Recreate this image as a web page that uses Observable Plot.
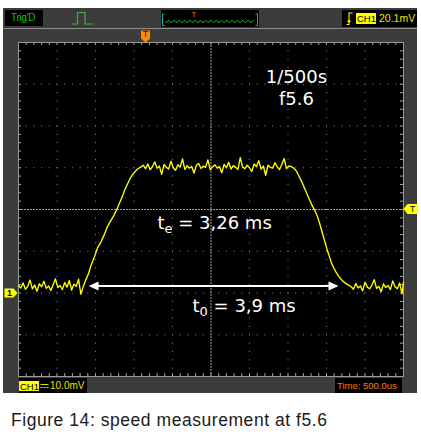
<!DOCTYPE html>
<html><head><meta charset="utf-8">
<script src="https://cdn.jsdelivr.net/npm/d3@7"></script>
<script src="https://cdn.jsdelivr.net/npm/@observablehq/plot@0.6"></script>
<style>
body{margin:0;background:#fff;width:421px;height:437px;overflow:hidden;position:relative;font-family:"Liberation Sans",Arial,sans-serif}
.abs{position:absolute}
#panel{left:3px;top:8px;width:414px;height:385px;background:#3c3c3c}
#sep{left:3px;top:28px;width:414px;height:1px;background:#8c8c8c}
.box{position:absolute;background:#000}
.lbl{position:absolute;white-space:nowrap;line-height:1}
#caption{position:absolute;left:11px;top:410px;font-size:17.5px;letter-spacing:0.55px;line-height:20px;color:#1a1a1a;white-space:nowrap}
</style></head><body>
<div id="panel" class="abs"></div><div id="sep" class="abs"></div>
<div id="chrome"></div>
<div id="caption">Figure 14: speed measurement at f5.6</div>
<script>
// ---- data ----
// time in ms (500 us/div, trigger at centre), voltage in mV (10 mV/div)
const leftT  = [-2.50,-2.47,-2.44,-2.41,-2.38,-2.35,-2.32,-2.29,-2.26,-2.23,-2.20,-2.17,-2.14,-2.11,-2.08,-2.05,-2.02,-1.99,-1.96,-1.93,-1.90,-1.87,-1.84,-1.81,-1.78,-1.75,-1.72,-1.69];
const leftMv = [1.8,1.2,2.4,0.9,1.6,3.1,1.0,1.9,0.4,2.2,1.5,2.8,1.1,1.7,0.6,2.0,3.4,1.3,1.8,0.8,2.5,1.4,3.0,0.7,2.1,1.6,3.3,-0.3];
const riseT  = [-1.656,-1.625,-1.591,-1.560,-1.526,-1.500,-1.474,-1.430,-1.383,-1.345,-1.305,-1.260,-1.214,-1.180,-1.149,-1.115,-1.084,-1.045,-1.006,-0.955,-0.910];
const riseMv = [1.7,3.2,4.6,6.5,8.1,9.4,10.8,12.2,14.1,15.9,17.2,18.6,20.4,21.9,23.2,24.9,26.1,27.6,28.7,29.7,30.2];
const topT   = [-0.88,-0.85,-0.82,-0.79,-0.76,-0.73,-0.70,-0.67,-0.64,-0.61,-0.58,-0.55,-0.52,-0.49,-0.46,-0.43,-0.40,-0.37,-0.34,-0.31,-0.28,-0.25,-0.22,-0.19,-0.16,-0.13,-0.10,-0.07,-0.04,-0.01,0.02,0.05,0.08,0.11,0.14,0.17,0.20,0.23,0.26,0.29,0.32,0.35,0.38,0.41,0.44,0.47,0.50,0.53,0.56,0.59,0.62,0.65,0.68,0.71,0.74,0.77,0.80,0.83,0.86,0.89,0.92,0.95,0.98,1.01,1.04];
const topMv  = [30.6,29.8,30.9,29.5,30.3,31.4,29.9,30.4,28.4,30.8,30.1,29.7,31.6,30.0,29.4,30.7,30.2,32.1,29.6,30.5,29.9,30.3,28.7,30.6,31.0,29.8,30.4,30.1,31.9,29.5,30.2,30.7,29.9,30.3,28.8,30.8,30.0,31.3,29.7,30.5,30.1,29.6,32.4,30.2,29.8,30.6,30.0,29.1,30.9,30.3,31.7,29.7,30.4,28.2,30.6,30.1,29.9,31.2,30.2,29.6,30.8,32.2,29.8,30.4,30.3];
const fallT  = [1.075,1.110,1.140,1.175,1.205,1.240,1.270,1.305,1.330,1.357,1.385,1.409,1.435,1.461,1.487,1.513,1.540,1.565,1.597,1.630,1.670,1.708,1.750,1.786];
const fallMv = [29.9,29.2,28.1,26.8,25.5,24.0,22.7,21.3,20.4,19.4,18.2,16.8,15.1,13.4,11.7,10.1,8.6,7.2,5.9,4.8,3.7,2.9,2.3,1.9];
const rightT  = [1.82,1.85,1.88,1.91,1.94,1.97,2.00,2.03,2.06,2.09,2.12,2.15,2.18,2.21,2.24,2.27,2.30,2.33,2.36,2.39,2.42,2.45,2.48,2.50];
const rightMv = [1.5,0.9,2.3,1.2,1.7,0.5,2.6,1.4,1.0,1.9,3.2,1.1,1.6,0.3,2.2,1.3,1.8,0.8,2.9,1.5,1.0,2.4,-0.2,2.6];

const gridTimes = [-2,-1.5,-1,-0.5,0.5,1,1.5,2];
const gridMv = [-10,0,10,30,40,50];
const centreTime = [0], centreMv = [20];

const settingLabels = [
  {t:1.11, mv:50.3, text:"1/500s"},
  {t:1.11, mv:45.0, text:"f5.6"}
];
const measures = [
  {t:-0.695, mv:15.3, sym:"t", sub:"e", rest:" = 3,26 ms"},
  {t:-0.240, mv:-4.5, sym:"t", sub:"0", rest:" = 3,9 ms"}
];
const span = {t1:-1.590, t2:1.656, mv:1.7};
const groundLevel = [{t:-2.5, mv:0, label:"1"}];
const triggerLevel = [{t:2.5, mv:20.1, label:"T"}];
const triggerTime = [{t:-0.85, mv:60, label:"T"}];

// ---- build ----
const seg = (ts, vs) => ts.map((t, i) => ({t, mv: vs[i]}));
const trace = [...seg(leftT,leftMv), ...seg(riseT,riseMv), ...seg(topT,topMv), ...seg(fallT,fallMv), ...seg(rightT,rightMv)];
const minorTimes = d3.range(-2.4, 2.45, 0.1);
const minorMv = d3.range(-18, 59, 2);

const symRight = {draw(c){c.moveTo(-6,-4.5);c.lineTo(3,-4.5);c.lineTo(7,0);c.lineTo(3,4.5);c.lineTo(-6,4.5);c.closePath();}};
const symLeft  = {draw(c){c.moveTo(-7,0);c.lineTo(-3,-5);c.lineTo(7,-5);c.lineTo(7,5);c.lineTo(-3,5);c.closePath();}};
const symDown  = {draw(c){c.moveTo(-4.5,-6);c.lineTo(4.5,-6);c.lineTo(4.5,2);c.lineTo(0,6);c.lineTo(-4.5,2);c.closePath();}};
const headL = {draw(c){c.moveTo(0,0);c.lineTo(10,-4.5);c.lineTo(10,4.5);c.closePath();}};
const headR = {draw(c){c.moveTo(0,0);c.lineTo(-10,-4.5);c.lineTo(-10,4.5);c.closePath();}};

const dotGrey = "#8a8a8a";
const plot = Plot.plot({
  width: 421, height: 400,
  marginLeft: 18, marginRight: 18, marginTop: 42, marginBottom: 24,
  x: {domain: [-2.5, 2.5], axis: null},
  y: {domain: [-20, 60], axis: null},
  style: {position:"absolute", left:"0px", top:"0px", background:"transparent", overflow:"visible"},
  marks: [
    Plot.frame({fill:"#000", stroke:null}),
    Plot.ruleX(gridTimes, {stroke:dotGrey, strokeDasharray:"1,7.35"}),
    Plot.ruleY(gridMv, {stroke:dotGrey, strokeDasharray:"1,6.7"}),
    Plot.ruleX(centreTime, {stroke:"#a0a0a0", strokeDasharray:"2,1"}),
    Plot.ruleY(centreMv, {stroke:"#a0a0a0", strokeDasharray:"2,1"}),
    Plot.ruleX(minorTimes, {y1:60, y2:59.3, stroke:"#a8a8a8"}),
    Plot.ruleX(minorTimes, {y1:-20, y2:-19.3, stroke:"#a8a8a8"}),
    Plot.ruleY(minorMv, {x1:-2.5, x2:-2.46, stroke:"#a8a8a8"}),
    Plot.ruleY(minorMv, {x1:2.5, x2:2.46, stroke:"#a8a8a8"}),
    Plot.frame({stroke:"#9a9a9a"}),
    Plot.line(trace, {x:"t", y:"mv", stroke:"#ffff00", strokeWidth:1.35}),
    Plot.link([span], {x1:d=>d.t1+0.05, x2:d=>d.t2-0.05, y1:"mv", y2:"mv", stroke:"#fff", strokeWidth:2}),
    Plot.dot([span], {x:"t1", y:"mv", symbol:headL, fill:"#fff", stroke:"none"}),
    Plot.dot([span], {x:"t2", y:"mv", symbol:headR, fill:"#fff", stroke:"none"}),
    Plot.text(settingLabels, {x:"t", y:"mv", text:"text", fill:"#fff", fontSize:18, fontFamily:"DejaVu Sans", textAnchor:"middle", lineAnchor:"bottom"}),
    Plot.text(measures, {x:"t", y:"mv", text:d=>d.sym+d.sub+d.rest, fill:"#fff", fontSize:18, fontFamily:"DejaVu Sans", textAnchor:"start", lineAnchor:"bottom"}),
    Plot.dot(groundLevel, {x:"t", y:"mv", dx:-8, symbol:symRight, fill:"#ffff00", stroke:"none"}),
    Plot.text(groundLevel, {x:"t", y:"mv", dx:-9, text:"label", fill:"#000", fontSize:9, fontWeight:"bold", fontFamily:"Liberation Sans"}),
    Plot.dot(triggerLevel, {x:"t", y:"mv", dx:7, symbol:symLeft, fill:"#ffff00", stroke:"none"}),
    Plot.text(triggerLevel, {x:"t", y:"mv", dx:9, text:"label", fill:"#000", fontSize:9, fontFamily:"Liberation Sans"}),
    Plot.dot(triggerTime, {x:"t", y:"mv", dy:-6, symbol:symDown, fill:"#ff8a00", stroke:"none"}),
    Plot.text(triggerTime, {x:"t", y:"mv", dy:-8, text:"label", fill:"#222", fontSize:9, fontFamily:"Liberation Sans"})
  ]
});
document.body.insertBefore(plot, document.getElementById("chrome"));

// subscripts
d3.select(plot).selectAll("text").each(function(){
  const m = measures.find(d => d.sym + d.sub + d.rest === this.textContent);
  if (!m) return;
  const el = d3.select(this); el.text(null);
  el.append("tspan").text(m.sym);
  el.append("tspan").attr("font-size", 13).attr("dy", 4).text(m.sub);
  el.append("tspan").attr("dy", -4).text(m.rest);
});

// ---- oscilloscope chrome ----
let wave = "M5,11.5";
for (let x = 5, k = 0; x <= 94; x += 2.65, k++) wave += `L${x.toFixed(2)},${k % 2 ? 10 : 13}`;
document.getElementById("chrome").innerHTML = `
<div class="box" style="left:5px;top:10px;width:38px;height:16px"></div>
<div class="lbl" style="left:11px;top:13px;font-size:10px;color:#00c800;letter-spacing:-0.3px">Trig'D</div>
<svg class="abs" style="left:70px;top:9px" width="26" height="18"><path d="M2,15H7.5V3.5H15V15H23" fill="none" stroke="#3cb43c" stroke-width="1.2"/></svg>
<div class="box" style="left:161px;top:10px;width:98px;height:17px"></div>
<svg class="abs" style="left:161px;top:10px" width="98" height="17">
 <path d="M3.5,4H1.5V15.5H3.5M94.5,4H96.5V15.5H94.5" fill="none" stroke="#19b4b4" stroke-width="1"/>
 <path d="${wave}" fill="none" stroke="#2aa02a" stroke-width="1"/>
 <text x="33" y="7" font-size="7" fill="#ff8a00" font-family="Liberation Sans" text-anchor="middle">T</text>
</svg>
<div class="box" style="left:342px;top:10px;width:75px;height:17px"></div>
<svg class="abs" style="left:342px;top:10px" width="16" height="17"><path d="M4.5,14.5H7V3H10.5M7,10L5.5,12M7,10L8.5,12" fill="none" stroke="#ffff00" stroke-width="1.1"/></svg>
<div class="abs" style="left:356px;top:13px;width:20px;height:11px;background:#ffff00"></div>
<div class="lbl" style="left:357px;top:14px;font-size:9.5px;color:#000">CH1</div>
<div class="lbl" style="left:379px;top:13px;font-size:10.5px;color:#e6e600">20.1mV</div>

<div class="box" style="left:19px;top:378px;width:68px;height:15px"></div>
<div class="abs" style="left:19px;top:381px;width:20px;height:10px;background:#ffff00"></div>
<div class="lbl" style="left:20px;top:381.5px;font-size:9.5px;color:#000">CH1</div>
<svg class="abs" style="left:40px;top:382px" width="9" height="8"><path d="M0.5,2.5H8.5" stroke="#e0e000" stroke-width="1"/><path d="M0.5,5.5H8.5" stroke="#e0e000" stroke-width="1" stroke-dasharray="2,1"/></svg>
<div class="lbl" style="left:50px;top:381px;font-size:10px;color:#e0e000">10.0mV</div>
<div class="box" style="left:335px;top:378px;width:67px;height:15px"></div>
<div class="lbl" style="left:337px;top:381px;font-size:9.5px;color:#ff7a00">Time: 500.0us</div>
`;
</script>
</body></html>
